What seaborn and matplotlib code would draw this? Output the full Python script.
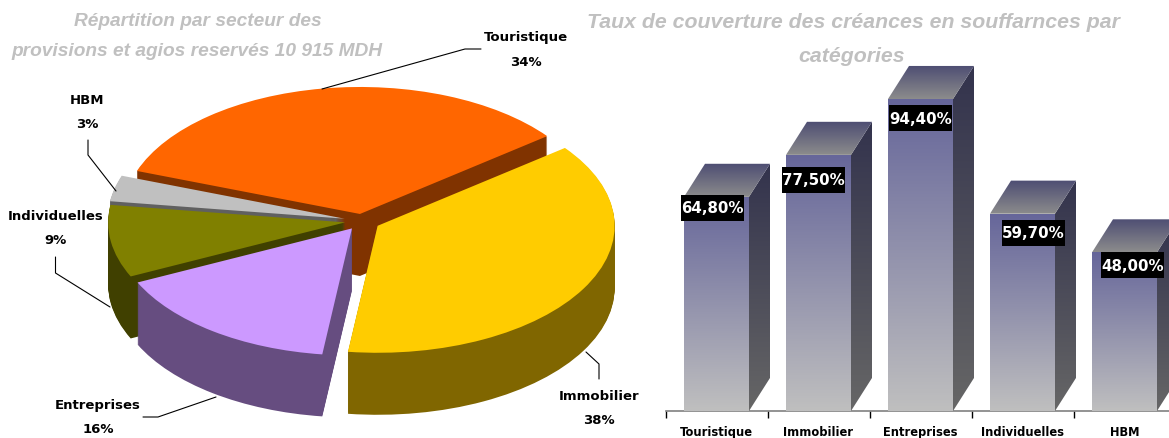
import matplotlib
matplotlib.use("Agg")
import matplotlib.pyplot as plt
import numpy as np
import seaborn as sns
from matplotlib.colors import LinearSegmentedColormap
from matplotlib.patches import Polygon, Rectangle

secteurs = ["Touristique", "Immobilier", "Entreprises", "Individuelles", "HBM"]
parts = [34, 37.5, 16, 9.2, 3.3]
parts_labels = ["34%", "38%", "16%", "9%", "3%"]

categories = ["Touristique", "Immobilier", "Entreprises", "Individuelles", "HBM"]
taux = [64.8, 77.5, 94.4, 59.7, 48.0]
taux_labels = ["64,80%", "77,50%", "94,40%", "59,70%", "48,00%"]

W, H = 1169, 439
sns.set_style("white")
plt.rcParams["font.family"] = ["DejaVu Sans"]
plt.rcParams["text.color"] = "black"

fig = plt.figure(figsize=(W / 100, H / 100), dpi=100)

# --- camembert "3D" : pie empilees sur un axe ecrase
cx, cy, rx, ry = 362, 222, 237, 127
prof = 62
explode = [0.056, 0.076, 0.072, 0.072, 0.075]
couleurs = ["#FF6600", "#FFCC00", "#CC99FF", "#808000", "#C0C0C0"]
sombres = ["#803300", "#806600", "#664D80", "#404000", "#606060"]
ordre = [0, 4, 3, 2, 1]  # du fond vers l'avant

ax_pie = fig.add_axes([0, 0, 640 / W, 1])
for k in range(prof + 1):
    cols = couleurs if k == prof else sombres
    wedges, _ = ax_pie.pie(parts, explode=explode, colors=cols, startangle=160.2,
                           counterclock=False, radius=1,
                           center=(0, -(prof - k) / ry),
                           wedgeprops={"linewidth": 0})
    for i, w in enumerate(wedges):
        w.set_zorder(ordre.index(i) * 1000 + k)
ax_pie.set_aspect("auto")
ax_pie.set_xlim(-cx / rx, (640 - cx) / rx)
ax_pie.set_ylim((cy - H) / ry, cy / ry)
ax_pie.axis("off")

# --- barres "3D"
ax = fig.add_axes([665.5 / W, (H - 412) / H, (W - 665.5) / W, 412 / H])
ax.patch.set_alpha(0)
sns.barplot(x=categories, y=taux, width=65 / 102, color="#66669A", saturation=1, ax=ax)

dx, dy = 21 / 102, 10.0
ymax = 412 / 3.305
box_w, box_h = 63 / 102, 26 / 3.305
box_off = [(-0.04, -3.3), (-0.05, -7.6), (0.0, -5.75), (0.108, -5.75), (0.083, -3.93)]


def degrade(verts, haut, bas, extent, z):
    poly = Polygon(verts, closed=True, fc="none", ec="none", transform=ax.transData)
    ax.add_patch(poly)
    cmap = LinearSegmentedColormap.from_list("d", [haut, bas])
    im = ax.imshow(np.linspace(0, 1, 200).reshape(-1, 1), cmap=cmap, aspect="auto",
                   extent=extent, origin="upper", zorder=z, interpolation="bilinear")
    im.set_clip_path(poly)


for i, bar in enumerate(ax.patches[:len(taux)]):
    x0, w, h = bar.get_x(), bar.get_width(), bar.get_height()
    x1 = x0 + w
    z = 3 + i
    degrade([(x0, 0), (x1, 0), (x1, h), (x0, h)], "#66669A", "#BFBFBF", (x0, x1, 0, h), z)
    degrade([(x1, 0), (x1 + dx, dy), (x1 + dx, h + dy), (x1, h)], "#33334D", "#666666",
            (x1, x1 + dx, 0, h + dy), z)
    degrade([(x0, h), (x1, h), (x1 + dx, h + dy), (x0 + dx, h + dy)], "#4D4D73", "#8C8C8C",
            (x0, x1 + dx, h, h + dy), z)
    ox, oy = box_off[i]
    bx, by = x0 + w / 2 + ox, h + oy
    ax.add_patch(Rectangle((bx - box_w / 2, by - box_h / 2), box_w, box_h, fc="black", ec="none", zorder=20))
    ax.text(bx, by, taux_labels[i], color="white", fontsize=10.8, fontweight="bold",
            ha="center", va="center", zorder=21)

ax.set_xlim(-0.5, (W - 716.5) / 102)
ax.set_ylim(0, ymax)
ax.set_yticks([])
ax.set_xticks(range(len(categories)))
ax.set_xticklabels(categories, fontsize=8.3, fontweight="bold", color="black")
ax.set_xticks(np.arange(-0.5, 4, 1), minor=True)
ax.tick_params(axis="x", which="major", length=0, pad=10)
ax.tick_params(axis="x", which="minor", bottom=True, length=5, width=1, color="black")
ax.set_xlabel("")
ax.set_ylabel("")
sns.despine(ax=ax, left=True)
ax.spines["bottom"].set_color("#808080")
ax.spines["bottom"].set_linewidth(1.2)
ax.spines["bottom"].set_bounds(-0.5, 5)

# --- textes et filets, en pixels
ov = fig.add_axes([0, 0, 1, 1])
ov.set_xlim(0, W)
ov.set_ylim(H, 0)
ov.axis("off")

titre = dict(color="#C0C0C0", fontstyle="italic", fontweight="bold", ha="center", va="center",
             family="Liberation Sans")
ov.text(198, 22, "Répartition par secteur des", fontsize=13.8, **titre)
ov.text(196.5, 52, "provisions et agios reservés 10 915 MDH", fontsize=13.8, **titre)
ov.text(853, 22, "Taux de couverture des créances en souffarnces par", fontsize=15.3, **titre)
ov.text(852, 56, "catégories", fontsize=15.3, **titre)

pos_labels = [(526, 38), (599, 397), (98, 406), (55.5, 217), (87, 101)]
for nom, part, (lx, ly) in zip(secteurs, parts_labels, pos_labels):
    ov.text(lx, ly, nom, fontsize=9.5, fontweight="bold", ha="center", va="center")
    ov.text(lx, ly + 24, part, fontsize=9.5, fontweight="bold", ha="center", va="center")

filets = [
    [(322, 90), (465, 50), (481, 50)],
    [(586, 353), (599, 365), (599, 380)],
    [(216, 398), (158, 418), (143, 418)],
    [(110, 308), (55.5, 274), (55.5, 258)],
    [(116, 192), (88, 156), (88, 141)],
]
for f in filets:
    xs, ys = zip(*f)
    ov.plot(xs, ys, color="black", lw=0.8)

fig.savefig("out.png", dpi=100)
